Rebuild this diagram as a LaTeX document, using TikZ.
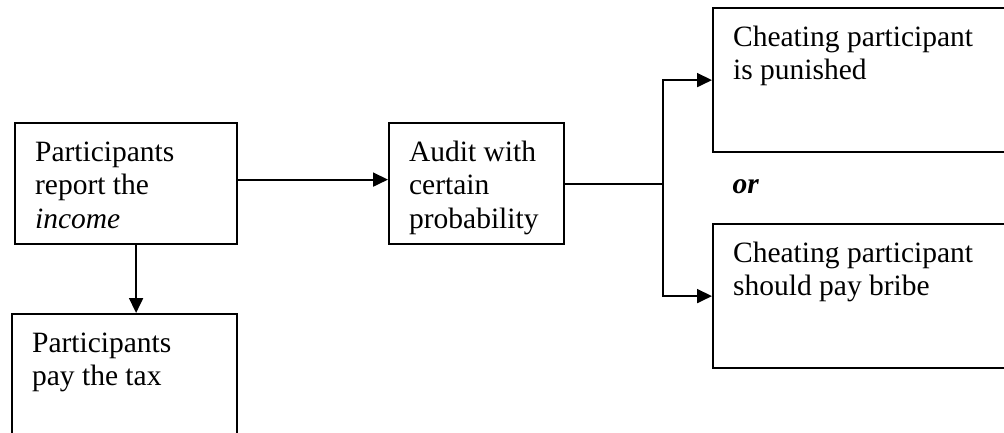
\documentclass[tikz,border=0pt]{standalone}
\usepackage{fontspec}
\setmainfont{Liberation Serif}
\usetikzlibrary{arrows.meta}

\newcommand{\stagetext}[3]{\parbox[t][#2][t]{#1}{\rule{0pt}{38pt}#3}}
\tikzstyle{stage}=[draw, rectangle, line width=2.2pt, inner xsep=20pt, inner ysep=0pt, anchor=north west]
\tikzstyle{flow}=[line width=1.8pt, -{Triangle[length=15pt, width=14pt]}]
\tikzstyle{link}=[line width=1.8pt]

\begin{document}
\begin{tikzpicture}[x=1pt, y=-1pt, every node/.style={font=\fontsize{29.5pt}{33.5pt}\selectfont}]

\useasboundingbox (0, 0) rectangle (1004, 432);

\node [stage, minimum width=222pt, minimum height=121pt] (report) at (14, 122)
      {\stagetext{182pt}{121pt}{Participants\\report the\\\textit{income}}};
\node [stage, minimum width=225pt, minimum height=125pt] (tax) at (11, 313)
      {\stagetext{185pt}{125pt}{Participants\\pay the tax}};
\node [stage, minimum width=175pt, minimum height=121pt] (audit) at (388, 122)
      {\stagetext{135pt}{121pt}{Audit with\\certain\\probability}};
\node [stage, minimum width=300pt, minimum height=144pt] (punished) at (712, 7)
      {\stagetext{260pt}{144pt}{Cheating participant\\is punished}};
\node [stage, minimum width=300pt, minimum height=144pt] (bribe) at (712, 223)
      {\stagetext{260pt}{144pt}{Cheating participant\\should pay bribe}};

\node [anchor=base west, font=\fontsize{29.5pt}{33.5pt}\selectfont\bfseries\itshape] (alt) at (729, 193) {or};

\coordinate (fork) at (663, 0);

\draw [flow] ([yshift=4pt]report.east) to ([yshift=4pt]audit.west);
\draw [flow] ([xshift=10pt]report.south) to ([xshift=10pt]report.south |- tax.north);
\draw [link] (audit.east) to (audit.east -| fork);
\draw [flow] (audit.east -| fork) |- (punished.west);
\draw [flow] (audit.east -| fork) |- (bribe.west);

\end{tikzpicture}
\end{document}
